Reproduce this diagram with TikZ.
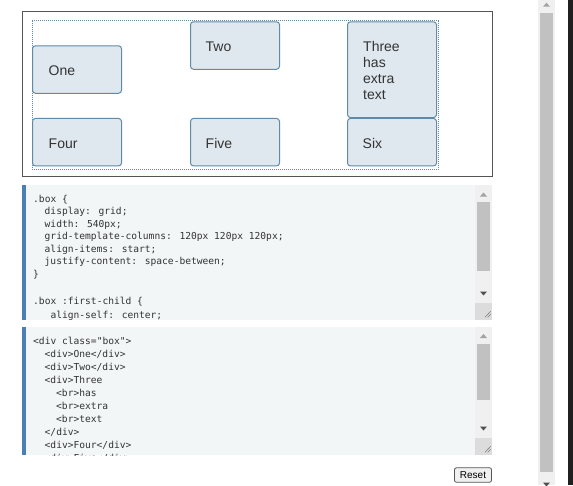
\documentclass[tikz,border=0pt]{standalone}
\usepackage{fontspec}
\setmainfont{Liberation Sans}
\newfontfamily\codefont{DejaVu Sans Mono}
\definecolor{boxfill}{RGB}{223,232,238}
\definecolor{boxline}{RGB}{96,139,168}
\definecolor{codebg}{RGB}{243,246,247}
\definecolor{codebar}{RGB}{74,126,181}
\definecolor{codetext}{RGB}{51,51,51}
\definecolor{track}{RGB}{240,240,240}
\definecolor{thumbc}{RGB}{193,193,193}
\definecolor{cornerc}{RGB}{220,220,220}
\definecolor{arrowlight}{RGB}{163,163,163}
\definecolor{arrowdark}{RGB}{80,80,80}
\definecolor{framec}{RGB}{85,85,85}
\definecolor{edgec}{RGB}{32,32,32}
\begin{document}
\begin{tikzpicture}[x=1pt,y=-1pt,
  gridbox/.style={draw=boxline, fill=boxfill, line width=1pt, rounded corners=3pt, inner sep=0pt, minimum width=89pt},
  boxlabel/.style={anchor=base west, inner sep=0pt, font=\fontsize{14}{16}\selectfont, text=codetext},
  codeline/.style={anchor=base west, inner sep=0pt, font=\codefont\fontsize{9.6}{13}\selectfont, text=codetext},
  btn/.style={draw=framec, fill=track, line width=0.8pt, rounded corners=2pt, inner sep=0pt, minimum width=37pt, minimum height=14.5pt, font=\fontsize{10}{12}\selectfont, text=black}
]
\useasboundingbox (0,0) rectangle (573,485);
\fill[white] (0,0) rectangle (573,485);

% result frame
\draw[framec, line width=1pt] (22.5,11.5) rectangle (492,176);
\draw[boxline, line width=0.8pt, dash pattern=on 1pt off 1pt] (32,20.5) rectangle (438,169);

% grid items
\node[gridbox, minimum height=47.5pt] (one)   at (77,69.5) {};
\node[gridbox, minimum height=47.5pt] (two)   at (235,45.5) {};
\node[gridbox, minimum height=95.7pt] (three) at (392,69.7) {};
\node[gridbox, minimum height=47.5pt] (four)  at (77,142.2) {};
\node[gridbox, minimum height=47.5pt] (five)  at (235,142.2) {};
\node[gridbox, minimum height=47.5pt] (six)   at (392,142.2) {};

\node[boxlabel] (tone)   at (48.5,75) {One};
\node[boxlabel] (ttwo)   at (205.5,51) {Two};
\node[boxlabel] (tthree) at (363,51) {Three};
\node[boxlabel] (thas)   at (363,67) {has};
\node[boxlabel] (textra) at (363,83) {extra};
\node[boxlabel] (ttext)  at (363,99) {text};
\node[boxlabel] (tfour)  at (48.5,148) {Four};
\node[boxlabel] (tfive)  at (205.5,148) {Five};
\node[boxlabel] (tsix)   at (362.5,148) {Six};

% CSS panel
\fill[codebg] (26,185) rectangle (475,320);
\fill[codebar] (22,185) rectangle (26,320);
\begin{scope}
\clip (26,185) rectangle (475,320);
\node[codeline] (c1) at (33,202.3) {.box \{};
\node[codeline] (c2) at (44.5,214.8) {display: grid;};
\node[codeline] (c3) at (44.5,227.3) {width: 540px;};
\node[codeline] (c4) at (44.5,239.8) {grid-template-columns: 120px 120px 120px;};
\node[codeline] (c5) at (44.5,252.3) {align-items: start;};
\node[codeline] (c6) at (44.5,264.8) {justify-content: space-between;};
\node[codeline] (c7) at (33,277.3) {\}};
\node[codeline] (c8) at (33,304.7) {.box :first-child \{};
\node[codeline] (c9) at (50.3,318) {align-self: center;};
\end{scope}
\fill[track] (475,185) rectangle (492,303);
\fill[thumbc] (477,202) rectangle (490,271);
\fill[arrowlight] (480,196.5) -- (487,196.5) -- (483.5,192.5) -- cycle;
\fill[arrowdark] (480,291.5) -- (487,291.5) -- (483.5,295.5) -- cycle;
\fill[cornerc] (475,303) rectangle (492,320);
\draw[gray, line width=0.6pt] (490.7,311.3) -- (485,317.3) (490.7,314.3) -- (487.7,317.3);

% HTML panel
\fill[codebg] (26,327) rectangle (475,455);
\fill[codebar] (22,327) rectangle (26,455);
\begin{scope}
\clip (26,327) rectangle (475,455);
\node[codeline] (h1)  at (33,344.7) {<div class="box">};
\node[codeline] (h2)  at (44.5,357.5) {<div>One</div>};
\node[codeline] (h3)  at (44.5,370.5) {<div>Two</div>};
\node[codeline] (h4)  at (44.5,383.5) {<div>Three};
\node[codeline] (h5)  at (56,396.5) {<br>has};
\node[codeline] (h6)  at (56,409.5) {<br>extra};
\node[codeline] (h7)  at (56,422.5) {<br>text};
\node[codeline] (h8)  at (44.5,435.5) {</div>};
\node[codeline] (h9)  at (44.5,448.8) {<div>Four</div>};
\node[codeline] (h10) at (44.5,461.8) {<div>Five</div>};
\end{scope}
\fill[track] (475,327) rectangle (492,438);
\fill[thumbc] (477,344) rectangle (490,400);
\fill[arrowlight] (480,338) -- (487,338) -- (483.5,334) -- cycle;
\fill[arrowdark] (480,426.5) -- (487,426.5) -- (483.5,430.5) -- cycle;
\fill[cornerc] (475,438) rectangle (492,455);
\draw[gray, line width=0.6pt] (490.7,446.3) -- (485,452.3) (490.7,449.3) -- (487.7,452.3);

% Reset button
\node[btn] (reset) at (473,475) {Reset};

% page scrollbar
\fill[track] (538,0) rectangle (555,485);
\fill[thumbc] (540,12.7) rectangle (553.3,471.7);
\fill[arrowlight] (543,6.7) -- (550,6.7) -- (546.5,2.7) -- cycle;
\fill[arrowdark] (543,482.5) -- (550,482.5) -- (546.5,486.5) -- cycle;
\fill[edgec] (568.3,0) rectangle (573,485);
\end{tikzpicture}
\end{document}
